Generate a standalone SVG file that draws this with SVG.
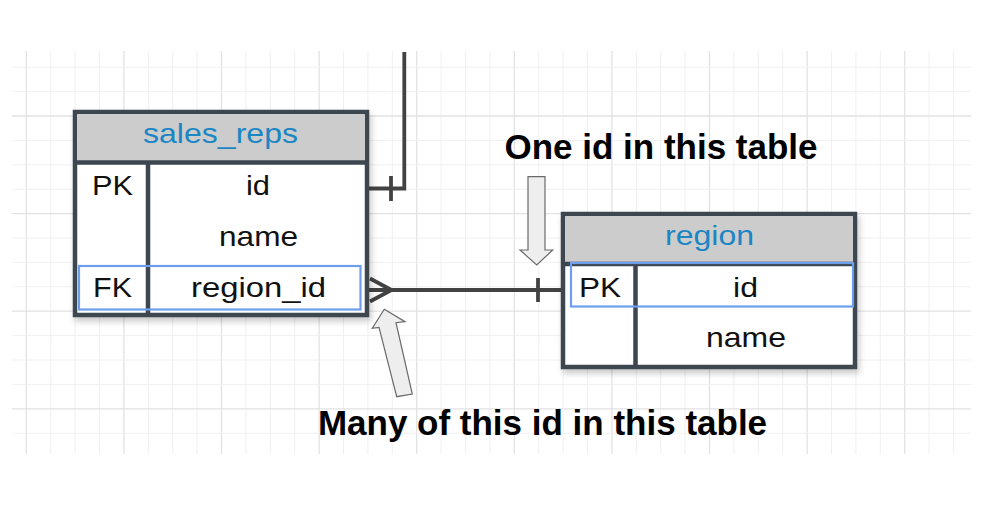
<svg xmlns="http://www.w3.org/2000/svg" width="1005" height="511" viewBox="0 0 1005 511">
  <defs>
    <style>
      .minor { stroke: #f0f0f0; stroke-width: 1; }
      .major { stroke: #e2e2e2; stroke-width: 1.3; }
      .tbl { fill: #ffffff; stroke: #3c4650; stroke-width: 4.5; }
      .hdr { fill: #cccccc; }
      .div { stroke: #3c4650; stroke-width: 4.5; }
      .hl { fill: none; stroke: #6d9eeb; stroke-width: 2.2; }
      .title { font-family: "Liberation Sans", Arial, sans-serif; font-size: 28px; fill: #1b86c3; text-anchor: middle; }
      .cell { font-family: "Liberation Sans", Arial, sans-serif; font-size: 28px; fill: #111111; text-anchor: middle; }
      .note { font-family: "Liberation Sans", Arial, sans-serif; font-size: 35px; font-weight: bold; fill: #000000; text-anchor: middle; }
      .conn { fill: none; stroke: #424242; stroke-width: 3.8; }
      .callout { fill: #eeeeee; stroke: #6a6a6a; stroke-width: 1.2; stroke-linejoin: miter; }
    </style>
    <filter id="shadow" x="-10%" y="-10%" width="125%" height="130%">
      <feDropShadow dx="2" dy="4" stdDeviation="3" flood-color="#000000" flood-opacity="0.22"/>
    </filter>
    <clipPath id="gridclip">
      <rect x="12" y="51" width="959" height="403"/>
    </clipPath>
  </defs>

  <rect x="0" y="0" width="1005" height="511" fill="#ffffff"/>

  <g id="grid" clip-path="url(#gridclip)">
    <path class="minor" d="M50.7 51V454M75.1 51V454M99.5 51V454M148.3 51V454M172.7 51V454M197.1 51V454M245.9 51V454M270.3 51V454M294.7 51V454M343.5 51V454M367.9 51V454M392.3 51V454M441.1 51V454M465.5 51V454M489.9 51V454M538.7 51V454M563.1 51V454M587.5 51V454M636.3 51V454M660.7 51V454M685.1 51V454M733.9 51V454M758.3 51V454M782.7 51V454M831.5 51V454M855.9 51V454M880.3 51V454M929.1 51V454M953.5 51V454"/>
    <path class="major" d="M26.3 51V454M123.9 51V454M221.5 51V454M319.1 51V454M416.7 51V454M514.3 51V454M611.9 51V454M709.5 51V454M807.1 51V454M904.7 51V454"/>
    <path class="minor" d="M12 67.2H971M12 91.6H971M12 140.4H971M12 164.8H971M12 189.2H971M12 238H971M12 262.4H971M12 286.8H971M12 335.6H971M12 360H971M12 384.4H971M12 433.2H971"/>
    <path class="major" d="M12 116H971M12 213.6H971M12 311.2H971M12 408.8H971"/>
  </g>

  <g id="connectors">
    <path class="conn" d="M404.3 52V188.5H369"/>
    <path class="conn" d="M391 176V201"/>
    <path class="conn" d="M369 290H561"/>
    <path class="conn" d="M370 278.5L391.5 290L370 301.5"/>
    <path class="conn" d="M538 278V302"/>
  </g>

  <g id="sales_reps">
    <rect class="tbl" x="75" y="112" width="292" height="203" filter="url(#shadow)"/>
    <rect class="hdr" x="77.3" y="114.3" width="287.4" height="48"/>
    <line class="div" x1="75" y1="162.5" x2="367" y2="162.5"/>
    <line class="div" x1="148" y1="162.5" x2="148" y2="315"/>
    <text class="title" x="220.5" y="142.5" textLength="155" lengthAdjust="spacingAndGlyphs">sales_reps</text>
    <text class="cell" x="112.5" y="195" textLength="41" lengthAdjust="spacingAndGlyphs">PK</text>
    <text class="cell" x="258" y="195" textLength="24" lengthAdjust="spacingAndGlyphs">id</text>
    <text class="cell" x="258.5" y="245.5" textLength="79" lengthAdjust="spacingAndGlyphs">name</text>
    <rect class="hl" x="79" y="266" width="281.5" height="43.5"/>
    <text class="cell" x="112.5" y="296.5" textLength="39" lengthAdjust="spacingAndGlyphs">FK</text>
    <text class="cell" x="258.5" y="296.5" textLength="135" lengthAdjust="spacingAndGlyphs">region_id</text>
  </g>

  <g id="region">
    <rect class="tbl" x="563" y="214" width="292" height="153" filter="url(#shadow)"/>
    <rect class="hdr" x="565.3" y="216.3" width="287.4" height="47.5"/>
    <line class="div" x1="563" y1="264" x2="855" y2="264"/>
    <line class="div" x1="635.5" y1="264" x2="635.5" y2="367"/>
    <text class="title" x="709.5" y="245" textLength="89" lengthAdjust="spacingAndGlyphs">region</text>
    <rect class="hl" x="571" y="263" width="282" height="43.5"/>
    <text class="cell" x="600" y="296.5" textLength="42" lengthAdjust="spacingAndGlyphs">PK</text>
    <text class="cell" x="745.5" y="296.5" textLength="25" lengthAdjust="spacingAndGlyphs">id</text>
    <text class="cell" x="746" y="346.5" textLength="80" lengthAdjust="spacingAndGlyphs">name</text>
  </g>

  <g id="callout_one">
    <path class="callout" d="M528 176.7H545V250H552.7L536.7 265L520 250H528Z"/>
    <text class="note" x="661" y="159">One id in this table</text>
  </g>

  <g id="callout_many">
    <path class="callout" d="M384.3 309.3L405 321.7L396 322.7L412.3 394L396.7 396.7L379 327.3L372.3 328.3Z"/>
    <text class="note" x="542.5" y="435">Many of this id in this table</text>
  </g>
</svg>
